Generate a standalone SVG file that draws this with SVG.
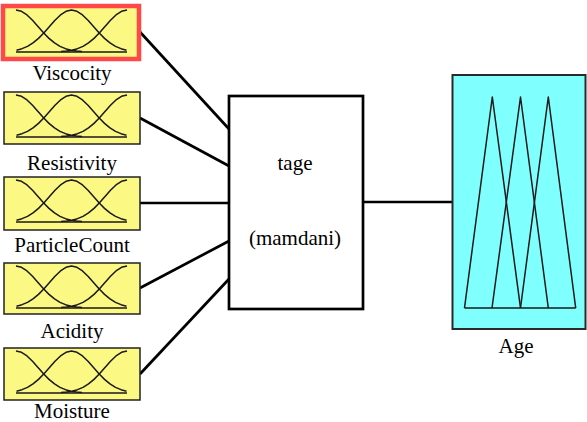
<svg xmlns="http://www.w3.org/2000/svg" xmlns:xlink="http://www.w3.org/1999/xlink" width="587" height="422" viewBox="0 0 587 422">
<style>
.box{fill:#FCF884;stroke:#222;stroke-width:1.5}
.mf{fill:none;stroke:#1a1a1a;stroke-width:1.5;stroke-linejoin:round}
.lbl{font-family:"Liberation Serif","Times New Roman",serif;font-size:21px;fill:#000;text-anchor:middle}
.conn{stroke:#000;stroke-width:2.7;fill:none}
</style>
<defs>
<g id="mfs">
<polyline class="mf" points="12,3 17.5,4.29 23,7.93 28.5,13.3 34,19.53 39.5,25.77 45,31.36 50.5,35.91 56,39.32 61.5,41.66 67,43.16 72.5,44.04 78,44.53"/>
<polyline class="mf" points="123,3 117.5,4.29 112,7.93 106.5,13.3 101,19.53 95.5,25.77 90,31.36 84.5,35.91 79,39.32 73.5,41.66 68,43.16 62.5,44.04 57,44.53"/>
<polyline class="mf" points="12.5,43.16 18,41.66 23.5,39.32 29,35.91 34.5,31.36 40,25.77 45.5,19.53 51,13.3 56.5,7.93 62,4.29 67.5,3 73,4.29 78.5,7.93 84,13.3 89.5,19.53 95,25.77 100.5,31.36 106,35.91 111.5,39.32 117,41.66 122.5,43.16"/>
<line class="mf" x1="12" y1="45" x2="123" y2="45"/>
</g>
</defs>
<g id="connectors">
<line class="conn" x1="140" y1="32" x2="229" y2="129"/>
<line class="conn" x1="140" y1="118" x2="229" y2="166"/>
<line class="conn" x1="140" y1="203" x2="229" y2="203"/>
<line class="conn" x1="140" y1="288" x2="229" y2="241"/>
<line class="conn" x1="140" y1="374" x2="229" y2="279"/>
<line class="conn" x1="363" y1="202" x2="452" y2="202"/>
</g>
<g id="viscocity" transform="translate(4,7)">
<rect x="-1" y="-1" width="136" height="53" fill="#FCF884" stroke="#FF4848" stroke-width="4.5"/>
<use xlink:href="#mfs"/>
<text class="lbl" x="68" y="73">Viscocity</text>
</g>
<g id="resistivity" transform="translate(4,92)">
<rect class="box" x="0" y="0" width="136" height="52"/>
<use xlink:href="#mfs"/>
<text class="lbl" x="68" y="78">Resistivity</text>
</g>
<g id="particlecount" transform="translate(4,177)">
<rect class="box" x="0" y="0" width="136" height="53"/>
<use xlink:href="#mfs"/>
<text class="lbl" x="68" y="75">ParticleCount</text>
</g>
<g id="acidity" transform="translate(4,263)">
<rect class="box" x="0" y="0" width="136" height="51"/>
<use xlink:href="#mfs"/>
<text class="lbl" x="68" y="75">Acidity</text>
</g>
<g id="moisture" transform="translate(4,348)">
<rect class="box" x="0" y="0" width="136" height="52"/>
<use xlink:href="#mfs"/>
<text class="lbl" x="68" y="70">Moisture</text>
</g>
<g id="tage">
<rect x="229" y="96" width="134" height="213" fill="#fff" stroke="#000" stroke-width="2.7"/>
<text class="lbl" x="295" y="170">tage</text>
<text class="lbl" x="295" y="245">(mamdani)</text>
</g>
<g id="age">
<rect x="452.5" y="75" width="133" height="254" fill="#80FFFF" stroke="#2a2a2a" stroke-width="2"/>
<polyline class="mf" points="464.5,308 492.3,97 520.5,308"/>
<polyline class="mf" points="492,308 520.5,97 548.3,308"/>
<polyline class="mf" points="520.5,308 548.3,97 575.7,308"/>
<line class="mf" x1="464.5" y1="308" x2="575.7" y2="308"/>
<text class="lbl" x="516" y="353">Age</text>
</g>
</svg>
